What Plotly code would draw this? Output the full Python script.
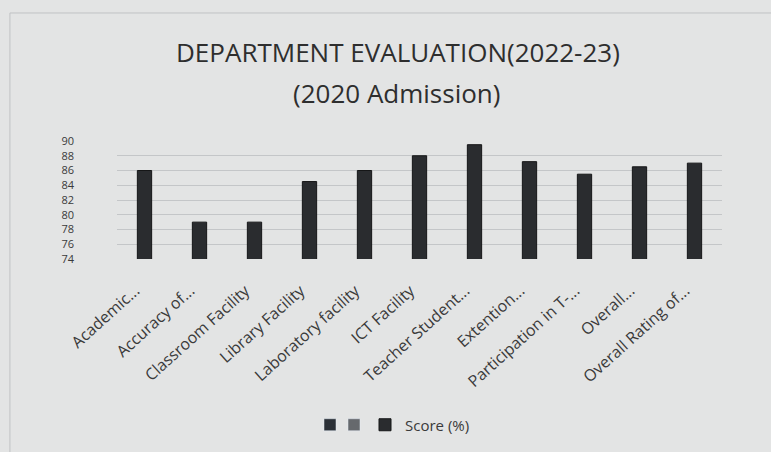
import plotly.graph_objects as go

# ── data ─────────────────────────────────────────────
categories = [
    "Academic...",
    "Accuracy of...",
    "Classroom Facility",
    "Library Facility",
    "Laboratory facility",
    "ICT Facility",
    "Teacher Student...",
    "Extention...",
    "Participation in T-...",
    "Overall...",
    "Overall Rating of...",
]
scores = [86.0, 79.0, 79.0, 84.5, 86.0, 88.0, 89.5, 87.2, 85.5, 86.5, 87.0]
y_ticks = [74, 76, 78, 80, 82, 84, 86, 88, 90]

TEXT = "#3a3a3a"
BG = "#e3e4e4"

fig = go.Figure()

# two unlabelled legend entries, as in the source (each in its own legend
# so they can sit close together)
fig.add_trace(go.Bar(x=categories, y=[None] * len(categories), name="",
                     marker_color="#2b3036", legend="legend2"))
fig.add_trace(go.Bar(x=categories, y=[None] * len(categories), name="",
                     marker_color="#66696d", legend="legend3"))

fig.add_trace(
    go.Bar(
        x=categories,
        y=scores,
        name="Score (%)",
        marker=dict(color="#2a2c2f", line=dict(color="#151617", width=1)),
        width=0.26,
    )
)


def legend_at(px):
    return dict(
        orientation="h",
        xref="container",
        yref="container",
        x=px / 771,
        xanchor="left",
        y=1 - 425 / 452,
        yanchor="middle",
        font=dict(size=15, color=TEXT),
        bgcolor="rgba(0,0,0,0)",
        itemwidth=30,
    )


fig.update_layout(
    width=771,
    height=452,
    paper_bgcolor=BG,
    plot_bgcolor=BG,
    barmode="overlay",
    font=dict(family="Open Sans, sans-serif", color=TEXT, size=13),
    margin=dict(l=117, r=49, t=141, b=193),
    showlegend=True,
    legend=legend_at(365),
    legend2=legend_at(310),
    legend3=legend_at(334),
    xaxis=dict(
        tickangle=-42,
        tickfont=dict(size=16, color=TEXT),
        tickvals=categories,
        # trailing spaces nudge the rotated labels down-left like the source
        ticktext=[c + "\u00a0" * 3 for c in categories],
        showgrid=False,
        showline=False,
        ticks="",
        ticklabelstandoff=10,
    ),
    yaxis=dict(
        range=[74, 90],
        tickvals=y_ticks,
        tickfont=dict(size=11, color=TEXT),
        gridcolor="#c4c6c8",
        gridwidth=1,
        zeroline=False,
        showline=False,
        ticklabelstandoff=42,
    ),
    annotations=[
        dict(text="DEPARTMENT EVALUATION(2022-23)", xref="paper", yref="paper",
             x=(398 - 117) / 605, y=1 + (141 - 52) / 118, xanchor="center",
             yanchor="middle", showarrow=False,
             font=dict(size=26, color="#2e2e2e")),
        dict(text="(2020 Admission)", xref="paper", yref="paper",
             x=(396 - 117) / 605, y=1 + (141 - 93) / 118, xanchor="center",
             yanchor="middle", showarrow=False,
             font=dict(size=26, color="#2e2e2e")),
    ],
    shapes=[
        dict(type="rect", xref="paper", yref="paper",
             x0=-0.177, x1=1.2, y0=-2.0, y1=2.085,
             line=dict(color="#c0c2c4", width=1), fillcolor="rgba(0,0,0,0)",
             layer="below"),
    ],
)

fig.write_html(
    "out.html",
    config={"displayModeBar": False},
    post_script="document.body.style.margin='0';",
)
